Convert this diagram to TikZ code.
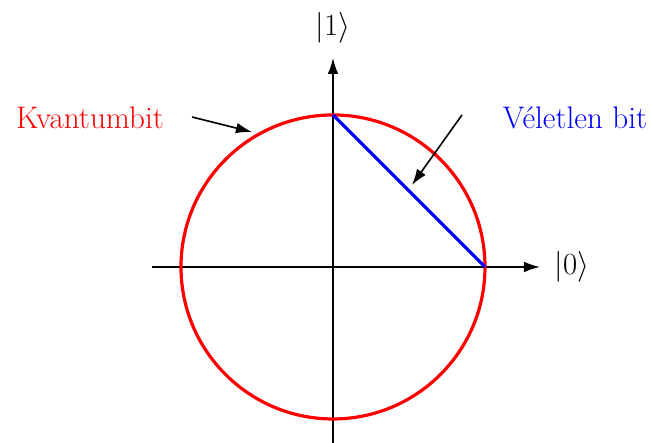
\documentclass[tikz,border=0pt]{standalone}
\usepackage{amsmath}
\usepackage{tikz}
\usetikzlibrary{arrows.meta}

\tikzset{
  axis/.style={line width=0.9pt, -{Latex[length=9pt,width=6pt]}},
  pointer/.style={line width=0.9pt, -{Latex[length=9pt,width=6pt]}},
  lbl/.style={font=\fontsize{17.5}{21}\selectfont, inner sep=0pt}
}

\begin{document}
\begin{tikzpicture}[baseline=(current bounding box.center)]
  \useasboundingbox (-6.572,-3.473) rectangle (6.276,5.269);
  \coordinate (o) at (0, 0);
  \coordinate (x0) at (-3.572, 0);
  \coordinate (x1) at (4.085, 0);
  \coordinate (y0) at (0, -3.473);
  \coordinate (y1) at (0, 4.125);
  \coordinate (e0) at (3, 0);
  \coordinate (e1) at (0, 3);
  \draw[axis] (x0) -- (x1);
  \draw[axis] (y0) -- (y1);
  \node[lbl] (k0) at (4.717, 0) {$|0\rangle$};
  \node[lbl] (k1) at (0, 4.717) {$|1\rangle$};
  \draw[red, line width=1.8pt] (o) circle (3);
  \draw[blue, line width=1.8pt] (e1) -- (e0);
  \node[lbl, red] (qbit) at (-4.796, 2.94) {Kvantumbit};
  \node[lbl, blue] (rbit) at (4.776, 2.94) {Véletlen bit};
  \coordinate (q0) at (-2.783, 2.960);
  \coordinate (q1) at (-1.599, 2.664);
  \coordinate (r0) at (2.546, 3.0);
  \coordinate (r1) at (1.559, 1.618);
  \draw[pointer] (q0) -- (q1);
  \draw[pointer] (r0) -- (r1);
\end{tikzpicture}
\end{document}
